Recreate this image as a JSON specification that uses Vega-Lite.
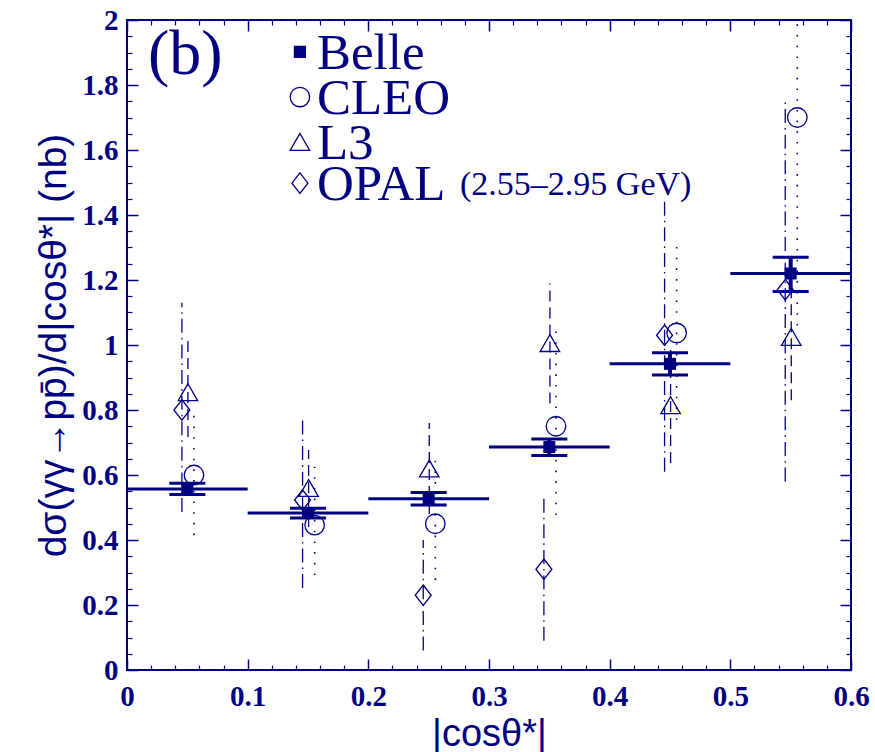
{
  "$schema": "https://vega.github.io/schema/vega-lite/v6.json",
  "width": 724,
  "height": 650,
  "autosize": {"type": "none"},
  "padding": {"left": 127, "top": 20, "right": 24, "bottom": 82},
  "background": "white",
  "config": {
    "view": {"stroke": "#000080", "strokeWidth": 2},
    "axis": {
      "grid": false,
      "domain": false,
      "tickColor": "#000080",
      "labelColor": "#000080",
      "titleColor": "#000080",
      "labelFont": "Liberation Serif",
      "labelFontWeight": "bold",
      "labelFontSize": 29,
      "titleFont": "Liberation Sans",
      "titleFontWeight": "normal",
      "labelFlush": false,
      "labelOverlap": false
    }
  },
  "datasets": {
    "pts": [
      {"exp": "Belle", "x": 0.05, "y": 0.557, "lo": 0.540, "hi": 0.575, "x0": 0.0, "x1": 0.1},
      {"exp": "Belle", "x": 0.15, "y": 0.483, "lo": 0.468, "hi": 0.498, "x0": 0.1, "x1": 0.2},
      {"exp": "Belle", "x": 0.25, "y": 0.527, "lo": 0.508, "hi": 0.546, "x0": 0.2, "x1": 0.3},
      {"exp": "Belle", "x": 0.35, "y": 0.686, "lo": 0.660, "hi": 0.711, "x0": 0.3, "x1": 0.4},
      {"exp": "Belle", "x": 0.45, "y": 0.942, "lo": 0.908, "hi": 0.976, "x0": 0.4, "x1": 0.5},
      {"exp": "Belle", "x": 0.55, "y": 1.220, "lo": 1.165, "hi": 1.270, "x0": 0.5, "x1": 0.6},
      {"exp": "CLEO", "x": 0.0555, "y": 0.60, "lo": 0.415, "hi": 0.785},
      {"exp": "CLEO", "x": 0.1555, "y": 0.446, "lo": 0.292, "hi": 0.625},
      {"exp": "CLEO", "x": 0.2555, "y": 0.45, "lo": 0.277, "hi": 0.646},
      {"exp": "CLEO", "x": 0.3555, "y": 0.75, "lo": 0.477, "hi": 1.046},
      {"exp": "CLEO", "x": 0.4555, "y": 1.037, "lo": 0.77, "hi": 1.33},
      {"exp": "CLEO", "x": 0.5555, "y": 1.70, "lo": 1.06, "hi": 2.34},
      {"exp": "L3", "x": 0.0505, "y": 0.855, "lo": 0.717, "hi": 1.015},
      {"exp": "L3", "x": 0.1505, "y": 0.56, "lo": 0.44, "hi": 0.677},
      {"exp": "L3", "x": 0.2505, "y": 0.62, "lo": 0.48, "hi": 0.76},
      {"exp": "L3", "x": 0.3505, "y": 1.006, "lo": 0.82, "hi": 1.19},
      {"exp": "L3", "x": 0.4505, "y": 0.815, "lo": 0.637, "hi": 0.99},
      {"exp": "L3", "x": 0.5505, "y": 1.025, "lo": 0.83, "hi": 1.22},
      {"exp": "OPAL", "x": 0.0455, "y": 0.80, "lo": 0.486, "hi": 1.13},
      {"exp": "OPAL", "x": 0.1455, "y": 0.523, "lo": 0.252, "hi": 0.77},
      {"exp": "OPAL", "x": 0.2455, "y": 0.23, "lo": 0.06, "hi": 0.40},
      {"exp": "OPAL", "x": 0.3455, "y": 0.31, "lo": 0.09, "hi": 0.53},
      {"exp": "OPAL", "x": 0.4455, "y": 1.03, "lo": 0.61, "hi": 1.446},
      {"exp": "OPAL", "x": 0.5455, "y": 1.17, "lo": 0.58, "hi": 1.748}
    ],
    "legend": [
      {"exp": "Belle", "sx": 0.1433, "tx": 0.1574, "ly": 1.902},
      {"exp": "CLEO", "sx": 0.1433, "tx": 0.1574, "ly": 1.763},
      {"exp": "L3", "sx": 0.1433, "tx": 0.1574, "ly": 1.625},
      {"exp": "OPAL", "sx": 0.1433, "tx": 0.1574, "ly": 1.498}
    ],
    "notes": [
      {"label": "(b)", "lx": 0.0174, "ly": 1.90, "kind": "panel"},
      {"label": "(2.55–2.95 GeV)", "lx": 0.276, "ly": 1.492, "kind": "energy"}
    ]
  },
  "resolve": {"axis": {"x": "independent", "y": "independent"}},
  "layer": [
    {
      "data": {"name": "pts"},
      "transform": [{"filter": "datum.exp === 'Belle'"}],
      "mark": {"type": "rule", "color": "#000080", "strokeWidth": 3},
      "encoding": {
        "x": {
          "field": "x0", "type": "quantitative",
          "scale": {"domain": [0, 0.6], "nice": false, "zero": false},
          "axis": {
            "orient": "bottom",
            "values": [0, 0.1, 0.2, 0.3, 0.4, 0.5, 0.6],
            "format": "~g",
            "tickSize": -11, "tickWidth": 1.5,
            "labelPadding": 23,
            "title": "|cosθ*|",
            "titleFontSize": 38,
            "titlePadding": 4
          }
        },
        "x2": {"field": "x1"},
        "y": {
          "field": "y", "type": "quantitative",
          "scale": {"domain": [0, 2], "nice": false, "zero": false},
          "axis": {
            "orient": "left",
            "values": [0, 0.2, 0.4, 0.6, 0.8, 1, 1.2, 1.4, 1.6, 1.8, 2],
            "format": "~g",
            "tickSize": -11, "tickWidth": 1.5,
            "labelPadding": 20,
            "title": "dσ(γγ→pp̄)/d|cosθ*| (nb)",
            "titleFontSize": 39,
            "titlePadding": 8
          }
        }
      }
    },
    {
      "data": {"name": "pts"},
      "transform": [{"filter": "datum.exp === 'Belle'"}],
      "mark": {"type": "rule", "color": "#000080", "strokeWidth": 4},
      "encoding": {
        "x": {
          "field": "x", "type": "quantitative",
          "axis": {
            "orient": "bottom",
            "values": [0.02, 0.04, 0.06, 0.08, 0.12, 0.14, 0.16, 0.18, 0.22, 0.24, 0.26, 0.28, 0.32, 0.34, 0.36, 0.38, 0.42, 0.44, 0.46, 0.48, 0.52, 0.54, 0.56, 0.58],
            "tickSize": -5, "tickWidth": 1.2, "labels": false, "title": null
          }
        },
        "y": {
          "field": "lo", "type": "quantitative",
          "axis": {
            "orient": "left",
            "values": [0.05, 0.1, 0.15, 0.25, 0.3, 0.35, 0.45, 0.5, 0.55, 0.65, 0.7, 0.75, 0.85, 0.9, 0.95, 1.05, 1.1, 1.15, 1.25, 1.3, 1.35, 1.45, 1.5, 1.55, 1.65, 1.7, 1.75, 1.85, 1.9, 1.95],
            "tickSize": -5, "tickWidth": 1.2, "labels": false, "title": null
          }
        },
        "y2": {"field": "hi"}
      }
    },
    {
      "data": {"name": "pts"},
      "transform": [{"filter": "datum.exp === 'Belle'"}],
      "mark": {"type": "tick", "orient": "horizontal", "color": "#000080", "size": 36, "thickness": 3, "opacity": 1},
      "encoding": {
        "x": {
          "field": "x", "type": "quantitative",
          "axis": {
            "orient": "top",
            "values": [0, 0.1, 0.2, 0.3, 0.4, 0.5, 0.6],
            "tickSize": -11, "tickWidth": 1.5, "labels": false, "title": null
          }
        },
        "y": {
          "field": "lo", "type": "quantitative",
          "axis": {
            "orient": "right",
            "values": [0, 0.2, 0.4, 0.6, 0.8, 1, 1.2, 1.4, 1.6, 1.8, 2],
            "tickSize": -11, "tickWidth": 1.5, "labels": false, "title": null
          }
        }
      }
    },
    {
      "data": {"name": "pts"},
      "transform": [{"filter": "datum.exp === 'Belle'"}],
      "mark": {"type": "tick", "orient": "horizontal", "color": "#000080", "size": 36, "thickness": 3, "opacity": 1},
      "encoding": {
        "x": {
          "field": "x", "type": "quantitative",
          "axis": {
            "orient": "top",
            "values": [0.02, 0.04, 0.06, 0.08, 0.12, 0.14, 0.16, 0.18, 0.22, 0.24, 0.26, 0.28, 0.32, 0.34, 0.36, 0.38, 0.42, 0.44, 0.46, 0.48, 0.52, 0.54, 0.56, 0.58],
            "tickSize": -5, "tickWidth": 1.2, "labels": false, "title": null
          }
        },
        "y": {
          "field": "hi", "type": "quantitative",
          "axis": {
            "orient": "right",
            "values": [0.05, 0.1, 0.15, 0.25, 0.3, 0.35, 0.45, 0.5, 0.55, 0.65, 0.7, 0.75, 0.85, 0.9, 0.95, 1.05, 1.1, 1.15, 1.25, 1.3, 1.35, 1.45, 1.5, 1.55, 1.65, 1.7, 1.75, 1.85, 1.9, 1.95],
            "tickSize": -5, "tickWidth": 1.2, "labels": false, "title": null
          }
        }
      }
    },
    {
      "data": {"name": "pts"},
      "transform": [{"filter": "datum.exp === 'CLEO'"}],
      "mark": {"type": "rule", "color": "#000080", "strokeWidth": 1.6, "strokeDash": [1.6, 9.1], "clip": true},
      "encoding": {
        "x": {"field": "x", "type": "quantitative", "axis": null},
        "y": {"field": "lo", "type": "quantitative", "axis": null},
        "y2": {"field": "hi"}
      }
    },
    {
      "data": {"name": "pts"},
      "transform": [{"filter": "datum.exp === 'L3'"}],
      "mark": {"type": "rule", "color": "#000080", "strokeWidth": 1.3, "strokeDash": [11, 6], "clip": true},
      "encoding": {
        "x": {"field": "x", "type": "quantitative", "axis": null},
        "y": {"field": "lo", "type": "quantitative", "axis": null},
        "y2": {"field": "hi"}
      }
    },
    {
      "data": {"name": "pts"},
      "transform": [{"filter": "datum.exp === 'OPAL'"}],
      "mark": {"type": "rule", "color": "#000080", "strokeWidth": 1.3, "strokeDash": [14, 5, 1.6, 5], "clip": true},
      "encoding": {
        "x": {"field": "x", "type": "quantitative", "axis": null},
        "y": {"field": "lo", "type": "quantitative", "axis": null},
        "y2": {"field": "hi"}
      }
    },
    {
      "data": {"name": "pts"},
      "transform": [{"filter": "datum.exp === 'Belle'"}],
      "mark": {"type": "point", "shape": "square", "filled": true, "color": "#000080", "size": 144, "opacity": 1},
      "encoding": {
        "x": {"field": "x", "type": "quantitative", "axis": null},
        "y": {"field": "y", "type": "quantitative", "axis": null}
      }
    },
    {
      "data": {"name": "pts"},
      "transform": [{"filter": "datum.exp !== 'Belle'"}],
      "mark": {"type": "point", "filled": false, "color": "#000080", "strokeWidth": 1.3, "size": 380, "opacity": 1},
      "encoding": {
        "x": {"field": "x", "type": "quantitative", "axis": null},
        "y": {"field": "y", "type": "quantitative", "axis": null},
        "shape": {
          "field": "exp", "type": "nominal", "legend": null,
          "scale": {"domain": ["Belle", "CLEO", "L3", "OPAL"], "range": ["square", "circle", "triangle-up", "M0,-1.05L0.82,0L0,1.05L-0.82,0Z"]}
        }
      }
    },
    {
      "data": {"name": "legend"},
      "transform": [{"filter": "datum.exp === 'Belle'"}],
      "mark": {"type": "point", "shape": "square", "filled": true, "color": "#000080", "size": 150, "opacity": 1},
      "encoding": {
        "x": {"field": "sx", "type": "quantitative", "axis": null},
        "y": {"field": "ly", "type": "quantitative", "axis": null}
      }
    },
    {
      "data": {"name": "legend"},
      "transform": [{"filter": "datum.exp !== 'Belle'"}],
      "mark": {"type": "point", "filled": false, "color": "#000080", "strokeWidth": 1.3, "size": 380, "opacity": 1},
      "encoding": {
        "x": {"field": "sx", "type": "quantitative", "axis": null},
        "y": {"field": "ly", "type": "quantitative", "axis": null},
        "shape": {"field": "exp", "type": "nominal", "legend": null}
      }
    },
    {
      "data": {"name": "legend"},
      "mark": {"type": "text", "align": "left", "baseline": "middle", "font": "Liberation Serif", "fontSize": 51, "color": "#000080", "dy": 2},
      "encoding": {
        "x": {"field": "tx", "type": "quantitative", "axis": null},
        "y": {"field": "ly", "type": "quantitative", "axis": null},
        "text": {"field": "exp", "type": "nominal"}
      }
    },
    {
      "data": {"name": "notes"},
      "transform": [{"filter": "datum.kind === 'panel'"}],
      "mark": {"type": "text", "align": "left", "baseline": "middle", "font": "Liberation Serif", "fontSize": 64, "color": "#000080", "dy": 2},
      "encoding": {
        "x": {"field": "lx", "type": "quantitative", "axis": null},
        "y": {"field": "ly", "type": "quantitative", "axis": null},
        "text": {"field": "label", "type": "nominal"}
      }
    },
    {
      "data": {"name": "notes"},
      "transform": [{"filter": "datum.kind === 'energy'"}],
      "mark": {"type": "text", "align": "left", "baseline": "middle", "font": "Liberation Serif", "fontSize": 34, "color": "#000080"},
      "encoding": {
        "x": {"field": "lx", "type": "quantitative", "axis": null},
        "y": {"field": "ly", "type": "quantitative", "axis": null},
        "text": {"field": "label", "type": "nominal"}
      }
    }
  ]
}
